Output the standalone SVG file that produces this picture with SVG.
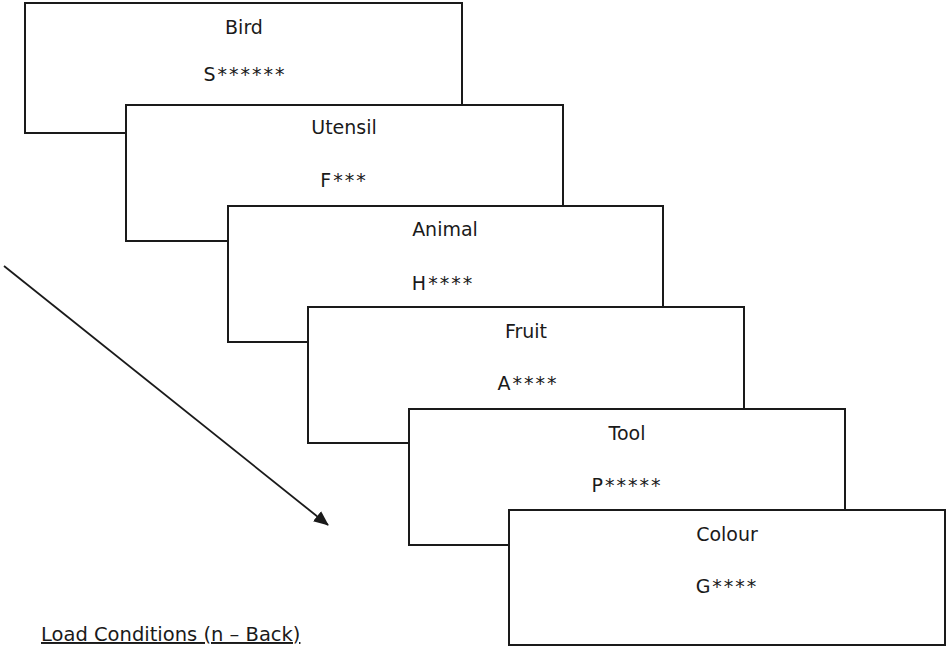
<svg xmlns="http://www.w3.org/2000/svg" width="950" height="650" viewBox="0 0 950 650">
<style>
.box{fill:#fff;stroke:#1a1a1a;stroke-width:2}
.t{font-family:"DejaVu Sans","Liberation Sans",sans-serif;font-size:19px;fill:#1a1a1a;text-anchor:middle}
.s{letter-spacing:2px}
.lab{font-family:"DejaVu Sans","Liberation Sans",sans-serif;font-size:19.5px;fill:#1a1a1a;text-decoration:underline}
</style>
<defs>
<marker id="ah" viewBox="0 0 15 13" refX="14" refY="6.5" markerWidth="15" markerHeight="13" markerUnits="userSpaceOnUse" orient="auto">
<path d="M0,0 L15,6.5 L0,13 Z" fill="#1a1a1a"/>
</marker>
</defs>
<rect width="950" height="650" fill="#fff"/>
<g id="connectors">
<line x1="4" y1="266" x2="328" y2="525" stroke="#1a1a1a" stroke-width="1.8" marker-end="url(#ah)"/>
</g>
<g id="bird">
<rect class="box" x="25" y="3" width="437" height="130"/>
<text class="t" x="244" y="34">Bird</text>
<text class="t s" x="245" y="81">S******</text>
</g>
<g id="utensil">
<rect class="box" x="126" y="105" width="437" height="136"/>
<text class="t" x="344" y="134">Utensil</text>
<text class="t s" x="344" y="187">F***</text>
</g>
<g id="animal">
<rect class="box" x="228" y="206" width="435" height="136"/>
<text class="t" x="445" y="236">Animal</text>
<text class="t s" x="443" y="290">H****</text>
</g>
<g id="fruit">
<rect class="box" x="308" y="307" width="436" height="136"/>
<text class="t" x="526" y="338">Fruit</text>
<text class="t s" x="528" y="390">A****</text>
</g>
<g id="tool">
<rect class="box" x="409" y="409" width="436" height="136"/>
<text class="t" x="627" y="440">Tool</text>
<text class="t s" x="627" y="492">P*****</text>
</g>
<g id="colour">
<rect class="box" x="509" y="510" width="436" height="135"/>
<text class="t" x="727" y="541">Colour</text>
<text class="t s" x="727" y="593">G****</text>
</g>
<text class="lab" x="41" y="641">Load Conditions (n – Back)</text>
</svg>
